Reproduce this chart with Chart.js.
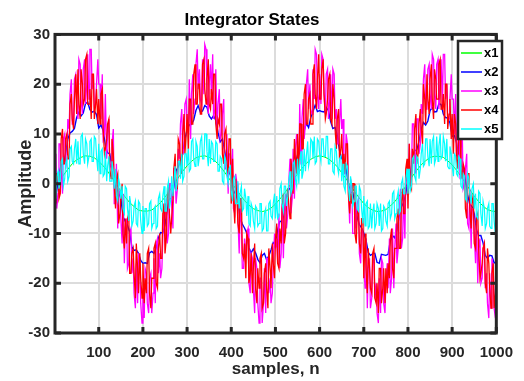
<!DOCTYPE html>
<html>
<head>
<meta charset="utf-8">
<script src="https://cdn.jsdelivr.net/npm/chart.js@4.4.1/dist/chart.umd.min.js"></script>
<style>
body{margin:0;background:#fff}
#wrap{width:524px;height:381px}
</style>
</head>
<body>
<div id="wrap"><canvas id="grafico" width="524" height="381"></canvas></div>
<script>
// sample indices (x axis)
let amostrasGrossas = [1]
for(let n=10;n<=1000;n+=10) amostrasGrossas.push(n)
let amostrasFinas = [1]
for(let n=5;n<=1000;n+=5) amostrasFinas.push(n)
let amostrasDensas = [1]
for(let n=0;n<1000;n+=5){ amostrasDensas.push(n+3); amostrasDensas.push(n+5) }

let ticksX = [100,200,300,400,500,600,700,800,900,1000]
let ticksY = [-30,-20,-10,0,10,20,30]
let nomes = ["x1","x2","x3","x4","x5"]
let cores = ["#00ff00","#0000ff","#ff00ff","#ff0000","#00ffff"]
let espessuras = [1,1.4,1.3,1.3,1.2]

// values
let x1 = [-0.3,
0.4,1.7,2.9,4.0,4.8,5.3,5.6,5.5,5.2,4.5,
3.6,2.5,1.2,-0.1,-1.5,-2.7,-3.8,-4.6,-5.3,-5.5,
-5.5,-5.3,-4.6,-3.8,-2.7,-1.5,-0.1,1.2,2.5,3.6,
4.5,5.2,5.5,5.6,5.3,4.8,4.0,2.9,1.7,0.4,
-1.0,-2.2,-3.4,-4.3,-5.0,-5.4,-5.6,-5.4,-4.9,-4.1,
-3.1,-2.0,-0.7,0.7,2.0,3.1,4.1,4.9,5.4,5.6,
5.4,5.0,4.3,3.4,2.2,1.0,-0.4,-1.7,-2.9,-4.0,
-4.8,-5.3,-5.6,-5.5,-5.2,-4.5,-3.6,-2.5,-1.2,0.1,
1.5,2.7,3.8,4.6,5.3,5.5,5.5,5.3,4.6,3.8,
2.7,1.5,0.1,-1.2,-2.5,-3.6,-4.5,-5.2,-5.5,-5.6]

let x2 = [-0.2,
-1.4,1.8,3.8,4.0,6.0,9.0,10.2,10.5,11.1,13.3,14.4,13.6,14.2,16.1,16.4,14.9,14.4,14.6,13.9,11.2,
11.8,10.7,7.8,6.2,6.0,3.4,0.8,-1.1,-1.7,-2.9,-6.6,-7.6,-8.3,-9.7,-12.7,-13.4,-13.3,-14.0,-15.4,-16.0,
-15.9,-16.0,-13.9,-13.6,-14.0,-12.9,-10.9,-9.8,-9.9,-8.3,-5.2,-3.1,-2.9,-0.8,2.6,3.4,4.7,5.9,8.9,10.9,
11.8,11.9,12.8,14.7,15.7,14.4,14.6,15.7,15.4,13.6,13.0,13.7,12.7,10.3,8.4,9.0,6.7,4.2,2.3,1.4,
-1.4,-2.1,-3.4,-6.8,-8.1,-8.9,-9.9,-12.8,-13.9,-13.1,-13.9,-15.2,-15.9,-14.4,-14.0,-15.3,-14.5,-13.3,-11.8,-12.2,
-9.3,-7.6,-7.5,-5.7,-2.7,-1.2,-0.7,1.1,4.1,5.8,6.1,8.1,10.7,12.1,11.3,13.3,14.5,15.8,14.5,14.7,
14.5,14.4,15.3,14.7,12.5,11.1,11.3,9.7,6.7,5.0,4.8,2.9,0.0,-1.7,-1.8,-3.8,-6.7,-8.2,-8.9,-9.9,
-11.3,-13.8,-14.4,-14.1,-14.0,-15.8,-16.0,-14.2,-14.3,-14.4,-14.2,-11.5,-10.4,-10.9,-9.4,-6.5,-4.7,-3.8,-2.1,0.8,
1.5,4.8,6.6,6.8,8.5,10.9,12.3,11.8,12.6,14.7,15.3,14.4,14.5,16.1,15.9,14.0,13.3,13.2,12.2,9.5,
9.7,8.2,5.2,3.8,3.1,0.7,-2.2,-4.2,-4.6,-6.0,-9.2,-10.4,-10.4,-11.9,-14.4,-15.0,-14.4,-14.5,-15.9,-15.8]

let x3 = [1,
6,-5,-2,8,8,3,-2,9,10,3,5,13,11,18,21,12,12,21,22,16,
13,25,24,17,14,23,25,16,20,26,17,27,27,19,22,15,16,20,25,20,
20,13,22,9,10,18,5,10,13,3,4,8,11,-4,-4,4,-9,-1,-2,-7,
-12,-2,-16,-9,-7,-17,-16,-10,-9,-18,-15,-22,-25,-16,-24,-14,-16,-24,-28,-21,
-27,-17,-18,-24,-26,-19,-18,-26,-22,-15,-24,-12,-11,-18,-14,-19,-17,-11,-4,-7,
-3,-12,-10,0,0,-4,-9,3,3,-4,-1,7,5,12,15,6,7,16,17,12,
10,21,9,18,22,14,17,24,27,19,23,17,16,25,18,28,27,18,14,20,
24,18,26,13,15,23,10,16,19,9,10,14,17,3,3,10,-2,6,6,1,
7,-5,-6,2,0,-7,-14,-5,-8,-17,-17,-11,-15,-10,-9,-20,-22,-14,-15,-21,
-26,-15,-17,-24,-28,-19,-19,-28,-24,-17,-26,-15,-15,-22,-19,-24,-22,-16,-10,-13,
-11,-16,-6,-17,-14,-4,-15,-7,-2,-9,-6,0,5,-6,-3,7,-3,7,10,7,
4,16,4,13,17,9,12,20,23,15,20,15,14,23,17,27,26,18,15,22,
16,26,25,18,14,22,23,13,17,22,13,23,22,13,15,8,8,12,17,11,
13,2,2,10,8,0,-8,1,-1,-10,-10,-4,-9,-4,-3,-14,-16,-9,-10,-17,
-21,-11,-25,-17,-15,-25,-23,-16,-15,-23,-20,-26,-28,-19,-26,-15,-16,-24,-26,-20,
-16,-21,-11,-22,-19,-9,-21,-13,-8,-16,-13,-6,-1,-13,-11,-1,-11,0,2,-1,
8,-1,2,12,12,7,2,13,13,6,8,16,14,21,24,15,15,23,24,18,
15,26,25,18,15,24,25,15,19,25,16,26,26,17,20,13,13,17,22,17,
17,10,18,5,6,14,1,7,10,-1,0,3,6,-8,-9,-1,-13,-5,-5,-10,
-16,-6,-20,-13,-11,-20,-19,-13,-12,-21,-18,-24,-27,-18,-25,-15,-17,-25,-27,-22]

let x4 = [2,
-4,2,2,-3,-2,9,11,4,4,9,10,5,5,16,18,13,11,17,22,14,
23,16,13,23,20,16,17,25,26,16,16,19,13,22,22,13,16,19,12,17,
12,18,19,11,6,7,9,12,13,3,1,9,6,0,-5,1,2,-8,-6,-3,
0,-10,-13,-7,-12,-7,-6,-18,-18,-14,-13,-18,-23,-12,-17,-22,-14,-19,-23,-16,
-24,-19,-22,-14,-13,-22,-25,-19,-19,-13,-12,-20,-21,-13,-10,-15,-15,-6,-4,-14,
-11,-3,0,-6,-10,-7,-3,3,6,-1,-1,9,8,4,2,10,14,6,10,14,
7,17,17,12,12,22,24,16,16,20,20,14,14,24,25,19,16,21,25,16,
15,19,16,22,22,12,9,13,12,16,16,6,4,10,11,4,2,9,9,-4,
5,-3,-8,1,-3,-8,-10,-3,-3,-14,-15,-12,-19,-10,-11,-20,-18,-14,-22,-17,
-12,-21,-24,-17,-21,-15,-14,-25,-24,-18,-16,-21,-25,-13,-17,-21,-12,-16,-19,-11,
-8,-16,-17,-9,-12,-5,-2,-12,-10,-4,-1,-4,-7,5,2,-2,9,5,2,10,
2,12,12,7,7,18,20,12,12,17,18,12,12,22,24,18,15,21,26,17,
17,23,25,18,13,14,17,21,22,13,12,20,17,11,7,13,15,5,7,10,
3,6,2,8,8,-2,-6,-2,-4,0,0,-10,-12,-6,-5,-12,-14,-7,-7,-19,
-10,-17,-22,-13,-17,-21,-22,-14,-13,-23,-24,-20,-26,-17,-17,-24,-21,-17,-24,-17,
-22,-16,-19,-11,-9,-17,-19,-13,-13,-7,-5,-13,-13,-4,-1,-6,-6,3,5,-5,
8,0,-1,7,4,11,14,4,6,12,15,11,8,20,17,12,22,17,14,21,
24,17,13,23,21,17,17,24,25,15,15,18,12,20,20,11,14,17,9,14,
6,14,12,5,3,12,12,3,1,4,3,-5,-7,2,2,-5,-9,-4,-2,-12,
-13,-7,-6,-13,-19,-18,-16,-13,-12,-20,-22,-13,-16,-21,-25,-18,-16,-25,-22,-18]

let x5 = [0.5,
-3,1.5,2.5,-1,0.5,4.5,5,-0.5,1,4,5,0.5,1.5,7,7.5,4.5,4,7,9,4,
8.5,4,4,9.5,10,6,4,9,8,4,5.5,8.5,9,4.5,4.5,9.5,9,5.5,2.5,8,
2,6.5,7,1.5,2,6.5,0.5,3.5,5.5,0.5,0.5,4.5,2.5,-1,3,-2.5,-3.5,1,-0.5,-3,
-0.5,-5,-6,-0.5,-1,-5,-7.5,-2.5,-4.5,-8.5,-7.5,-4.5,-3.5,-8,-8.5,-3.5,-4,-7.5,-10,-4.5,
-9.5,-5,-5,-8.5,-8,-4,-3.5,-9,-8,-5,-4.5,-9,-8.5,-3,-2,-5,-5.5,-2.5,-0.5,-5.5,
-5.5,-1,0.5,-5,-3,1.5,-2.5,0.5,3.5,-1.5,0.5,4.5,4.5,1,6,0.5,1.5,6,6,3.5,
7,2.5,3,8.5,9,5,3.5,8.5,7.5,3.5,5.5,8.5,9.5,5,5,10,10,6.5,3.5,9,
4,8.5,8,4.5,4.5,8.5,8,2.5,2.5,5.5,5,0.5,0,5.5,4.5,1.5,0,3,3.5,-1.5,
-3.5,1,1.5,-4,-4,0.5,-5,-2,-0.5,-5.5,-5,-1,-3,-6.5,-2.5,-8,-8.5,-4,-5,-7.5,
-9,-4.5,-5,-8.5,-8,-4,-4,-9.5,-9,-6,-5,-9.5,-9.5,-4,-3.5,-6.5,-7,-4,-2,-7,
-2.5,-7,-6.5,-1,0,-4,-5.5,-0.5,-0.5,-4.5,-2.5,0.5,2.5,-2,-1,4,4.5,1,-0.5,5,
0,4.5,6.5,1,2.5,7,2.5,5.5,8.5,3.5,5,9,8.5,5,9.5,4,4.5,9,8.5,6,
4.5,9,9,5.5,5.5,9.5,9.5,4,4,7,7,2.5,2,7.5,6.5,3.5,2,5,5.5,0.5,
4,-0.5,-1.5,4,3.5,-0.5,-3.5,1.5,-0.5,-4.5,-3.5,-0.5,-0.5,-5,-5.5,-0.5,-1.5,-5,-8,-2.5,
-8.5,-4,-3.5,-9,-8.5,-4,-9,-6,-4,-9,-8,-4,-5,-8.5,-4,-9.5,-9,-4.5,-5,-7.5,
-8.5,-4,-3.5,-7,-6,-2,-1.5,-7,-6,-3,-1.5,-6,-5.5,0,1,-2,-2,1,3,-2,
3,-1.5,-0.5,5,5.5,1.5,0.5,5.5,5,1,3,6,8,3.5,4,9,9,5.5,3.5,9,
4,8.5,9.5,4,5,9.5,4.5,7.5,10,5,5.5,9.5,8,4.5,9,3.5,3,7.5,6,3.5,
1.5,6,5.5,2,1.5,5.5,5,-0.5,-1,2,1.5,-3,-3.5,2,1,-2,-4,-1,0,-5,
-2,-6.5,-7,-1.5,-2,-6,-8.5,-3.5,-5,-9,-8,-5,-4,-8.5,-9,-4,-4,-7.5,-10,-4.5]

let fonte = "'Liberation Sans Narrow','Liberation Sans',Arial,sans-serif"
let escuro = "#262626"

function pontos(xs,ys){
return ys.map((y,i)=>({x:xs[i],y:y}))
}

let series = [
{xs:amostrasGrossas,ys:x1},
{xs:amostrasFinas,ys:x2},
{xs:amostrasDensas,ys:x3},
{xs:amostrasDensas,ys:x4},
{xs:amostrasDensas,ys:x5}
]

let datasets = series.map((s,i)=>({
label:nomes[i],
data:pontos(s.xs,s.ys),
borderColor:cores[i],
borderWidth:espessuras[i],
pointRadius:0,
tension:0,
fill:false,
order:5-i
}))

// box, inward ticks and legend like the original figure
let moldura = {
id:"moldura",
afterDatasetsDraw(chart){
let ctx = chart.ctx
let a = chart.chartArea
let sx = chart.scales.x
let sy = chart.scales.y
ctx.save()
ctx.strokeStyle = escuro
ctx.lineWidth = 3
ctx.beginPath()
ticksX.forEach(v=>{
let p = sx.getPixelForValue(v)
ctx.moveTo(p,a.top); ctx.lineTo(p,a.top+6)
ctx.moveTo(p,a.bottom); ctx.lineTo(p,a.bottom-6)
})
ticksY.forEach(v=>{
let p = sy.getPixelForValue(v)
ctx.moveTo(a.left,p); ctx.lineTo(a.left+6,p)
ctx.moveTo(a.right,p); ctx.lineTo(a.right-6,p)
})
ctx.stroke()
ctx.strokeRect(a.left,a.top,a.right-a.left,a.bottom-a.top)

// legend
let lx = 458, ly = 41, lw = 44, lh = 98
ctx.fillStyle = "#fff"
ctx.fillRect(lx,ly,lw,lh)
ctx.lineWidth = 2.5
ctx.strokeRect(lx,ly,lw,lh)
ctx.font = "bold 13px " + fonte
ctx.textBaseline = "middle"
ctx.textAlign = "left"
chart.data.datasets.forEach((d,i)=>{
let y = ly + 12 + i*19
ctx.strokeStyle = d.borderColor
ctx.lineWidth = 1.5
ctx.beginPath()
ctx.moveTo(lx+3,y); ctx.lineTo(lx+24,y)
ctx.stroke()
ctx.fillStyle = "#000"
ctx.fillText(d.label,lx+26,y)
})
ctx.restore()
}
}

let ctx = document.getElementById("grafico")

new Chart(ctx,{
type:"line",
data:{datasets:datasets},
options:{
responsive:false,
animation:false,
events:[],
layout:{padding:{left:0,right:20,top:0,bottom:0}},
plugins:{
legend:{display:false},
tooltip:{enabled:false},
title:{
display:true,
text:"Integrator States",
color:"#000",
font:{family:fonte,size:17,weight:"bold"},
padding:{top:10,bottom:4}
}
},
scales:{
x:{
type:"linear",
min:1,
max:1000,
afterBuildTicks:s=>{ s.ticks = ticksX.map(v=>({value:v})) },
afterFit:s=>{ s.height = 48 },
grid:{color:"#dcdcdc",lineWidth:2,drawTicks:false},
border:{display:false},
ticks:{color:escuro,font:{family:fonte,size:15,weight:"bold"},padding:11,maxRotation:0,autoSkip:false,callback:v=>String(v)},
title:{display:true,text:"samples, n",color:escuro,font:{family:fonte,size:17,weight:"bold"},padding:{top:0,bottom:1}}
},
y:{
min:-30,
max:30,
afterBuildTicks:s=>{ s.ticks = ticksY.map(v=>({value:v})) },
afterFit:s=>{ s.width = 55 },
grid:{color:"#dcdcdc",lineWidth:2,drawTicks:false},
border:{display:false},
ticks:{color:escuro,font:{family:fonte,size:15,weight:"bold"},padding:5,autoSkip:false,callback:v=>String(v)},
title:{display:true,text:"Amplitude",color:escuro,font:{family:"'Liberation Sans',Arial,sans-serif",size:18,weight:"bold"},padding:{top:15,bottom:0}}
}
}
},
plugins:[moldura]
})
</script>
</body>
</html>
